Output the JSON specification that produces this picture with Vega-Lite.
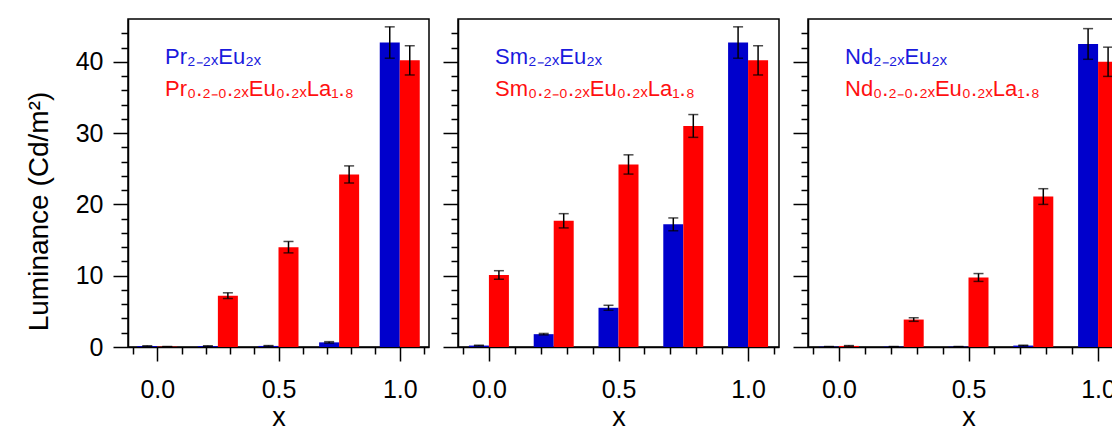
{
  "$schema": "https://vega.github.io/schema/vega-lite/v6.json",
  "background": "white",
  "padding": {"left": 24, "top": 18, "right": 0, "bottom": 0},
  "config": {
    "font": "Liberation Sans",
    "view": {"stroke": "black", "strokeWidth": 1.5},
    "axis": {
      "grid": false,
      "domainColor": "black",
      "domainWidth": 1.5,
      "tickColor": "black",
      "tickWidth": 1.5,
      "labelColor": "black",
      "titleColor": "black",
      "labelFont": "Liberation Sans",
      "titleFont": "Liberation Sans",
      "labelFontSize": 25,
      "titleFontSize": 27,
      "titleFontWeight": "normal"
    },
    "legend": {
      "orient": "none",
      "legendX": 15,
      "legendY": 27,
      "title": null,
      "symbolSize": 0,
      "symbolOpacity": 0,
      "symbolStrokeWidth": 0,
      "labelOffset": 0,
      "labelFont": "Liberation Sans",
      "labelFontSize": 22,
      "labelLimit": 500,
      "rowPadding": 10,
      "padding": 0
    }
  },
  "datasets": {
    "lum": [
      {"panel": "Pr", "group": "A", "label": "Pr₂₋₂ₓEu₂ₓ", "x": 0, "lum": 0.12, "err": 0.05},
      {"panel": "Pr", "group": "A", "label": "Pr₂₋₂ₓEu₂ₓ", "x": 0.25, "lum": 0.12, "err": 0.05},
      {"panel": "Pr", "group": "A", "label": "Pr₂₋₂ₓEu₂ₓ", "x": 0.5, "lum": 0.15, "err": 0.05},
      {"panel": "Pr", "group": "A", "label": "Pr₂₋₂ₓEu₂ₓ", "x": 0.75, "lum": 0.65, "err": 0.1},
      {"panel": "Pr", "group": "A", "label": "Pr₂₋₂ₓEu₂ₓ", "x": 1.0, "lum": 42.7, "err": 2.2},
      {"panel": "Pr", "group": "B", "label": "Pr₀.₂₋₀.₂ₓEu₀.₂ₓLa₁.₈", "x": 0, "lum": 0.05, "err": 0.02},
      {"panel": "Pr", "group": "B", "label": "Pr₀.₂₋₀.₂ₓEu₀.₂ₓLa₁.₈", "x": 0.25, "lum": 7.2, "err": 0.4},
      {"panel": "Pr", "group": "B", "label": "Pr₀.₂₋₀.₂ₓEu₀.₂ₓLa₁.₈", "x": 0.5, "lum": 14.0, "err": 0.8},
      {"panel": "Pr", "group": "B", "label": "Pr₀.₂₋₀.₂ₓEu₀.₂ₓLa₁.₈", "x": 0.75, "lum": 24.2, "err": 1.2},
      {"panel": "Pr", "group": "B", "label": "Pr₀.₂₋₀.₂ₓEu₀.₂ₓLa₁.₈", "x": 1.0, "lum": 40.2, "err": 2.05},
      {"panel": "Sm", "group": "A", "label": "Sm₂₋₂ₓEu₂ₓ", "x": 0, "lum": 0.2, "err": 0.05},
      {"panel": "Sm", "group": "A", "label": "Sm₂₋₂ₓEu₂ₓ", "x": 0.25, "lum": 1.8, "err": 0.1},
      {"panel": "Sm", "group": "A", "label": "Sm₂₋₂ₓEu₂ₓ", "x": 0.5, "lum": 5.5, "err": 0.35},
      {"panel": "Sm", "group": "A", "label": "Sm₂₋₂ₓEu₂ₓ", "x": 0.75, "lum": 17.2, "err": 0.9},
      {"panel": "Sm", "group": "A", "label": "Sm₂₋₂ₓEu₂ₓ", "x": 1.0, "lum": 42.7, "err": 2.2},
      {"panel": "Sm", "group": "B", "label": "Sm₀.₂₋₀.₂ₓEu₀.₂ₓLa₁.₈", "x": 0, "lum": 10.1, "err": 0.6},
      {"panel": "Sm", "group": "B", "label": "Sm₀.₂₋₀.₂ₓEu₀.₂ₓLa₁.₈", "x": 0.25, "lum": 17.7, "err": 1.0},
      {"panel": "Sm", "group": "B", "label": "Sm₀.₂₋₀.₂ₓEu₀.₂ₓLa₁.₈", "x": 0.5, "lum": 25.6, "err": 1.35},
      {"panel": "Sm", "group": "B", "label": "Sm₀.₂₋₀.₂ₓEu₀.₂ₓLa₁.₈", "x": 0.75, "lum": 31.0, "err": 1.6},
      {"panel": "Sm", "group": "B", "label": "Sm₀.₂₋₀.₂ₓEu₀.₂ₓLa₁.₈", "x": 1.0, "lum": 40.2, "err": 2.05},
      {"panel": "Nd", "group": "A", "label": "Nd₂₋₂ₓEu₂ₓ", "x": 0, "lum": 0.05, "err": 0.02},
      {"panel": "Nd", "group": "A", "label": "Nd₂₋₂ₓEu₂ₓ", "x": 0.25, "lum": 0.05, "err": 0.02},
      {"panel": "Nd", "group": "A", "label": "Nd₂₋₂ₓEu₂ₓ", "x": 0.5, "lum": 0.05, "err": 0.02},
      {"panel": "Nd", "group": "A", "label": "Nd₂₋₂ₓEu₂ₓ", "x": 0.75, "lum": 0.2, "err": 0.05},
      {"panel": "Nd", "group": "A", "label": "Nd₂₋₂ₓEu₂ₓ", "x": 1.0, "lum": 42.5, "err": 2.15},
      {"panel": "Nd", "group": "B", "label": "Nd₀.₂₋₀.₂ₓEu₀.₂ₓLa₁.₈", "x": 0, "lum": 0.15, "err": 0.05},
      {"panel": "Nd", "group": "B", "label": "Nd₀.₂₋₀.₂ₓEu₀.₂ₓLa₁.₈", "x": 0.25, "lum": 3.85, "err": 0.25},
      {"panel": "Nd", "group": "B", "label": "Nd₀.₂₋₀.₂ₓEu₀.₂ₓLa₁.₈", "x": 0.5, "lum": 9.75, "err": 0.55},
      {"panel": "Nd", "group": "B", "label": "Nd₀.₂₋₀.₂ₓEu₀.₂ₓLa₁.₈", "x": 0.75, "lum": 21.1, "err": 1.1},
      {"panel": "Nd", "group": "B", "label": "Nd₀.₂₋₀.₂ₓEu₀.₂ₓLa₁.₈", "x": 1.0, "lum": 40.0, "err": 2.05}
    ]
  },
  "data": {"name": "lum"},
  "spacing": 11,
  "resolve": {"scale": {"color": "independent", "x": "independent", "y": "independent"}, "legend": {"color": "independent"}},
  "hconcat": [
    {
      "width": 301,
      "height": 328,
      "transform": [{"filter": "datum.panel === 'Pr'"}],
      "encoding": {
        "x": {"field": "x", "type": "quantitative", "scale": {"domain": [-0.1, 1.1], "nice": false, "zero": false},
          "axis": {"title": "x", "values": [-0.1, 0, 0.1, 0.2, 0.3, 0.4, 0.5, 0.6, 0.7, 0.8, 0.9, 1.0, 1.1],
            "tickSize": {"condition": {"test": "abs(datum.value * 2 - round(datum.value * 2)) < 0.001", "value": 14}, "value": 7},
            "labelExpr": "abs(datum.value * 2 - round(datum.value * 2)) < 0.001 ? format(datum.value, '.1f') : ''",
            "labelPadding": 16, "titlePadding": 2, "labelFlush": false, "labelOverlap": false}},
        "y": {"field": "lum", "type": "quantitative", "scale": {"domain": [0, 46], "nice": false},
          "axis": {"title": "Luminance (Cd/m²)", "titleFontSize": 28, "values": [0, 2, 4, 6, 8, 10, 12, 14, 16, 18, 20, 22, 24, 26, 28, 30, 32, 34, 36, 38, 40, 42, 44],
            "tickSize": {"condition": {"test": "datum.value % 10 === 0", "value": 15}, "value": 7},
            "labelExpr": "datum.value % 10 === 0 ? datum.label : ''",
            "labelPadding": 10, "titlePadding": 22, "titleY": 192, "labelOverlap": false}}
      },
      "layer": [
        {"transform": [{"filter": "datum.group === 'A'"}], "mark": {"type": "bar", "width": 20, "xOffset": -10},
          "encoding": {"color": {"field": "label", "type": "nominal", "scale": {"domain": ["Pr₂₋₂ₓEu₂ₓ", "Pr₀.₂₋₀.₂ₓEu₀.₂ₓLa₁.₈"], "range": ["#0000cc", "#ff0000"]},
            "legend": {"encode": {"labels": {"update": {"fill": {"signal": "test(/La/, datum.label) ? '#ff1010' : '#1a1add'"}}}}}}}},
        {"transform": [{"filter": "datum.group === 'B'"}], "mark": {"type": "bar", "width": 20, "xOffset": 10},
          "encoding": {"color": {"field": "label", "type": "nominal"}}},
        {"transform": [{"filter": "datum.group === 'A'"}], "mark": {"type": "errorbar", "color": "black", "thickness": 1.5, "ticks": {"size": 10, "xOffset": -10}, "rule": {"xOffset": -10}},
          "encoding": {"yError": {"field": "err"}}},
        {"transform": [{"filter": "datum.group === 'B'"}], "mark": {"type": "errorbar", "color": "black", "thickness": 1.5, "ticks": {"size": 10, "xOffset": 10}, "rule": {"xOffset": 10}},
          "encoding": {"yError": {"field": "err"}}}
      ]
    },
    {
      "width": 321,
      "height": 328,
      "transform": [{"filter": "datum.panel === 'Sm'"}],
      "encoding": {
        "x": {"field": "x", "type": "quantitative", "scale": {"domain": [-0.1, 1.1], "nice": false, "zero": false},
          "axis": {"title": "x", "values": [-0.1, 0, 0.1, 0.2, 0.3, 0.4, 0.5, 0.6, 0.7, 0.8, 0.9, 1.0, 1.1],
            "tickSize": {"condition": {"test": "abs(datum.value * 2 - round(datum.value * 2)) < 0.001", "value": 14}, "value": 7},
            "labelExpr": "abs(datum.value * 2 - round(datum.value * 2)) < 0.001 ? format(datum.value, '.1f') : ''",
            "labelPadding": 16, "titlePadding": 2, "labelFlush": false, "labelOverlap": false}},
        "y": {"field": "lum", "type": "quantitative", "scale": {"domain": [0, 46], "nice": false},
          "axis": {"title": null, "labels": false, "values": [0, 2, 4, 6, 8, 10, 12, 14, 16, 18, 20, 22, 24, 26, 28, 30, 32, 34, 36, 38, 40, 42, 44],
            "tickSize": {"condition": {"test": "datum.value % 10 === 0", "value": 15}, "value": 7}}}
      },
      "layer": [
        {"transform": [{"filter": "datum.group === 'A'"}], "mark": {"type": "bar", "width": 20, "xOffset": -10},
          "encoding": {"color": {"field": "label", "type": "nominal", "scale": {"domain": ["Sm₂₋₂ₓEu₂ₓ", "Sm₀.₂₋₀.₂ₓEu₀.₂ₓLa₁.₈"], "range": ["#0000cc", "#ff0000"]},
            "legend": {"encode": {"labels": {"update": {"fill": {"signal": "test(/La/, datum.label) ? '#ff1010' : '#1a1add'"}}}}}}}},
        {"transform": [{"filter": "datum.group === 'B'"}], "mark": {"type": "bar", "width": 20, "xOffset": 10},
          "encoding": {"color": {"field": "label", "type": "nominal"}}},
        {"transform": [{"filter": "datum.group === 'A'"}], "mark": {"type": "errorbar", "color": "black", "thickness": 1.5, "ticks": {"size": 10, "xOffset": -10}, "rule": {"xOffset": -10}},
          "encoding": {"yError": {"field": "err"}}},
        {"transform": [{"filter": "datum.group === 'B'"}], "mark": {"type": "errorbar", "color": "black", "thickness": 1.5, "ticks": {"size": 10, "xOffset": 10}, "rule": {"xOffset": 10}},
          "encoding": {"yError": {"field": "err"}}}
      ]
    },
    {
      "width": 321,
      "height": 328,
      "transform": [{"filter": "datum.panel === 'Nd'"}],
      "encoding": {
        "x": {"field": "x", "type": "quantitative", "scale": {"domain": [-0.1, 1.1], "nice": false, "zero": false},
          "axis": {"title": "x", "values": [-0.1, 0, 0.1, 0.2, 0.3, 0.4, 0.5, 0.6, 0.7, 0.8, 0.9, 1.0, 1.1],
            "tickSize": {"condition": {"test": "abs(datum.value * 2 - round(datum.value * 2)) < 0.001", "value": 14}, "value": 7},
            "labelExpr": "abs(datum.value * 2 - round(datum.value * 2)) < 0.001 ? format(datum.value, '.1f') : ''",
            "labelPadding": 16, "titlePadding": 2, "labelFlush": false, "labelOverlap": false}},
        "y": {"field": "lum", "type": "quantitative", "scale": {"domain": [0, 46], "nice": false},
          "axis": {"title": null, "labels": false, "values": [0, 2, 4, 6, 8, 10, 12, 14, 16, 18, 20, 22, 24, 26, 28, 30, 32, 34, 36, 38, 40, 42, 44],
            "tickSize": {"condition": {"test": "datum.value % 10 === 0", "value": 15}, "value": 7}}}
      },
      "layer": [
        {"transform": [{"filter": "datum.group === 'A'"}], "mark": {"type": "bar", "width": 20, "xOffset": -10},
          "encoding": {"color": {"field": "label", "type": "nominal", "scale": {"domain": ["Nd₂₋₂ₓEu₂ₓ", "Nd₀.₂₋₀.₂ₓEu₀.₂ₓLa₁.₈"], "range": ["#0000cc", "#ff0000"]},
            "legend": {"encode": {"labels": {"update": {"fill": {"signal": "test(/La/, datum.label) ? '#ff1010' : '#1a1add'"}}}}}}}},
        {"transform": [{"filter": "datum.group === 'B'"}], "mark": {"type": "bar", "width": 20, "xOffset": 10},
          "encoding": {"color": {"field": "label", "type": "nominal"}}},
        {"transform": [{"filter": "datum.group === 'A'"}], "mark": {"type": "errorbar", "color": "black", "thickness": 1.5, "ticks": {"size": 10, "xOffset": -10}, "rule": {"xOffset": -10}},
          "encoding": {"yError": {"field": "err"}}},
        {"transform": [{"filter": "datum.group === 'B'"}], "mark": {"type": "errorbar", "color": "black", "thickness": 1.5, "ticks": {"size": 10, "xOffset": 10}, "rule": {"xOffset": 10}},
          "encoding": {"yError": {"field": "err"}}}
      ]
    }
  ]
}
